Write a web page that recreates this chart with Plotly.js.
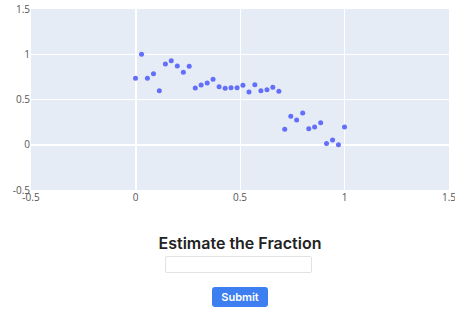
<!DOCTYPE html>
<html>
<head>
<meta charset="utf-8">
<script src="https://cdn.plot.ly/plotly-3.0.1.min.js"></script>
<style>
  html, body { margin: 0; padding: 0; background: #fff; width: 455px; height: 310px; overflow: hidden; font-family: "Open Sans", "Liberation Sans", sans-serif; }
  #plot { position: absolute; left: 0; top: 0; width: 455px; height: 212px; }
  #title { position: absolute; left: 130px; width: 220px; top: 233px; text-align: center; font-family: "Inter", "Open Sans", sans-serif; font-size: 16px; font-weight: 600; color: #222; }
  #answer { position: absolute; left: 165px; top: 256px; width: 145px; height: 15px; border: 1px solid #e2e2e2; border-radius: 2px; padding: 0; margin: 0; box-sizing: content-box; background: #fff; }
  #submit { position: absolute; left: 212px; top: 287px; width: 56px; height: 20px; background: #3d7ff0; color: #fff; border: none; border-radius: 3px; font-family: "Inter", "Open Sans", sans-serif; font-size: 11px; font-weight: 600; padding: 0; }
</style>
</head>
<body>
<div id="plot"></div>
<div id="title">Estimate the Fraction</div>
<input id="answer" type="text">
<button id="submit">Submit</button>
<script>
var xValues = [0, 0.029, 0.057, 0.086, 0.114, 0.143, 0.171, 0.2, 0.229, 0.257,
  0.286, 0.314, 0.343, 0.371, 0.4, 0.429, 0.457, 0.486, 0.514, 0.543,
  0.571, 0.6, 0.629, 0.657, 0.686, 0.714, 0.743, 0.771, 0.8, 0.829,
  0.857, 0.886, 0.914, 0.943, 0.971, 1];
var yValues = [0.734, 1.0, 0.734, 0.785, 0.597, 0.893, 0.929, 0.871, 0.80, 0.867,
  0.627, 0.66, 0.683, 0.723, 0.642, 0.624, 0.63, 0.63, 0.657, 0.583,
  0.664, 0.597, 0.608, 0.635, 0.59, 0.17, 0.314, 0.273, 0.35, 0.177,
  0.196, 0.243, 0.015, 0.052, 0.0, 0.196];
var xTicks = [-0.5, 0, 0.5, 1, 1.5];
var yTicks = [-0.5, 0, 0.5, 1, 1.5];

Plotly.newPlot('plot', [{
  x: xValues, y: yValues, type: 'scatter', mode: 'markers',
  marker: { color: '#636efa', size: 5 }, hoverinfo: 'none'
}], {
  width: 455, height: 212,
  margin: { l: 31, r: 6, t: 9, b: 22 },
  plot_bgcolor: '#e5ecf6', paper_bgcolor: '#ffffff',
  showlegend: false,
  font: { family: '"Open Sans", verdana, arial, sans-serif', size: 10, color: '#555' },
  xaxis: { range: [-0.5, 1.5], tickvals: xTicks, ticktext: xTicks.map(String), ticklabeloverflow: 'allow', gridcolor: '#ffffff', zerolinecolor: '#ffffff', zerolinewidth: 2, showline: false, ticks: '' },
  yaxis: { range: [-0.5, 1.5], tickvals: yTicks, ticktext: yTicks.map(String), ticklabeloverflow: 'allow', gridcolor: '#ffffff', zerolinecolor: '#ffffff', zerolinewidth: 2, showline: false, ticks: '' }
}, { displayModeBar: false, staticPlot: true });
</script>
</body>
</html>
